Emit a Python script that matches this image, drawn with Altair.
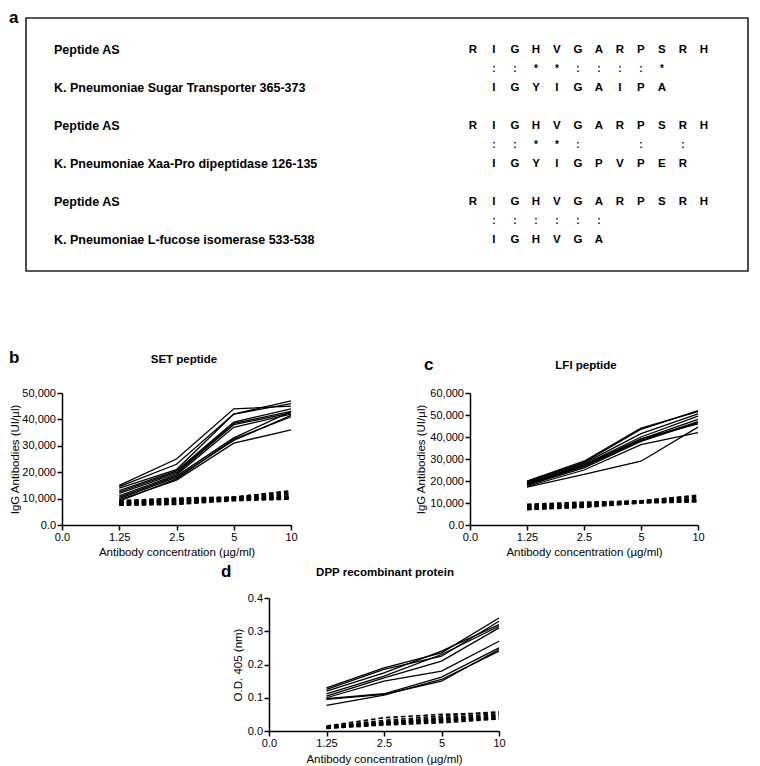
import altair as alt
import pandas as pd

FONT = "Liberation Sans"

# ---------------- panel a: sequence alignment ----------------
seq_labels = [
    "Peptide AS",
    "K. Pneumoniae Sugar Transporter 365-373",
    "Peptide AS",
    "K. Pneumoniae Xaa-Pro dipeptidase 126-135",
    "Peptide AS",
    "K. Pneumoniae L-fucose isomerase 533-538",
]
seq_strings = ["RIGHVGARPSRH", "-IGYIGAIPA", "RIGHVGARPSRH", "-IGYIGPVPER", "RIGHVGARPSRH", "-IGHVGA"]
match_strings = ["-::**::::*", "-::**:--:-:", "-::::::"]

# ---------------- panels b-d: dose responses ----------------
conc_axis = ["0.0", "1.25", "2.5", "5", "10"]
conc = ["1.25", "2.5", "5", "10"]

set_immune = [
    [15000, 25000, 44000, 45000],
    [14500, 23000, 42000, 47000],
    [14000, 21000, 42000, 46000],
    [13000, 20500, 39000, 44000],
    [12500, 20000, 38500, 43000],
    [12000, 19500, 38000, 42500],
    [11000, 19000, 37000, 42000],
    [10500, 18500, 33000, 43000],
    [10000, 18000, 32000, 41500],
    [9500, 17000, 31000, 36000],
    [9000, 17500, 32500, 41000],
]
set_control = [
    [7500, 7800, 9200, 9800],
    [7800, 8300, 9500, 10200],
    [8000, 8700, 9800, 10600],
    [8300, 9000, 10000, 11000],
    [8600, 9400, 10200, 11500],
    [8900, 9800, 10400, 12000],
    [9200, 10200, 10600, 12600],
    [8100, 9600, 10500, 13000],
    [7600, 8000, 9600, 10000],
    [8400, 9200, 10100, 10400],
]
lfi_immune = [
    [20000, 29000, 44000, 51500],
    [19800, 28500, 43500, 52000],
    [19500, 28000, 41500, 50500],
    [19000, 27500, 40000, 49500],
    [18500, 27000, 39000, 48000],
    [18200, 26500, 38500, 47000],
    [18000, 26000, 38000, 46500],
    [17500, 25000, 36500, 42000],
    [17200, 23000, 29000, 44500],
    [18800, 27200, 39200, 46000],
]
lfi_control = [
    [7000, 8000, 10000, 10500],
    [7400, 8400, 10200, 11000],
    [7800, 8800, 10400, 11500],
    [8200, 9200, 10600, 12000],
    [8600, 9600, 10800, 12600],
    [9000, 10000, 11000, 13200],
    [9400, 10400, 10900, 13600],
    [7200, 8600, 10300, 10800],
    [8000, 9000, 10500, 11200],
]
dpp_immune = [
    [0.130, 0.190, 0.235, 0.340],
    [0.125, 0.185, 0.225, 0.330],
    [0.120, 0.175, 0.240, 0.320],
    [0.112, 0.165, 0.230, 0.315],
    [0.105, 0.160, 0.210, 0.310],
    [0.100, 0.150, 0.180, 0.270],
    [0.097, 0.112, 0.162, 0.250],
    [0.095, 0.110, 0.150, 0.245],
    [0.077, 0.108, 0.155, 0.240],
]
dpp_control = [
    [0.015, 0.040, 0.050, 0.055],
    [0.013, 0.032, 0.045, 0.058],
    [0.012, 0.028, 0.040, 0.052],
    [0.011, 0.025, 0.036, 0.048],
    [0.010, 0.022, 0.032, 0.044],
    [0.009, 0.020, 0.028, 0.040],
    [0.008, 0.018, 0.025, 0.036],
    [0.010, 0.024, 0.034, 0.038],
]

# ================= build panel a =================
lab_df = pd.DataFrame({"label": seq_labels, "row": list(range(len(seq_labels)))})
let_rows = []
for r, s in enumerate(seq_strings):
    for c, ch in enumerate(s):
        if ch != "-":
            let_rows.append({"row": r, "col": c, "ch": ch})
let_df = pd.DataFrame(let_rows)
mk_rows = []
for r, s in enumerate(match_strings):
    for c, ch in enumerate(s):
        if ch != "-":
            mk_rows.append({"row": 2 * r + 0.5, "col": c, "ch": ch})
mk_df = pd.DataFrame(mk_rows)

xs_a = alt.Scale(domain=[-21.29, 13.1], nice=False, zero=False)
ys_a = alt.Scale(domain=[-0.84, 5.81], nice=False, zero=False, reverse=True)

labels_layer = alt.Chart(lab_df).mark_text(
    align="left", baseline="middle", font=FONT, fontSize=12.5, fontWeight="bold", color="black"
).encode(x=alt.value(28), y=alt.Y("row:Q", scale=ys_a, axis=None), text="label:N")

letters_layer = alt.Chart(let_df).mark_text(
    align="center", baseline="middle", font=FONT, fontSize=11.5, fontWeight="bold", color="black"
).encode(
    x=alt.X("col:Q", scale=xs_a, axis=None),
    y=alt.Y("row:Q", scale=ys_a, axis=None),
    text="ch:N",
)
marks_layer = alt.Chart(mk_df).mark_text(
    align="center", baseline="middle", font=FONT, fontSize=10, fontWeight="bold", color="black"
).encode(
    x=alt.X("col:Q", scale=xs_a, axis=None),
    y=alt.Y("row:Q", scale=ys_a, axis=None),
    text="ch:N",
)
a_letter = alt.Chart(pd.DataFrame({"t": ["a"]})).mark_text(
    align="left", baseline="top", font=FONT, fontSize=17, fontWeight="bold", color="black"
).encode(x=alt.value(-17), y=alt.value(-8), text="t:N")

panel_a = alt.layer(labels_layer, letters_layer, marks_layer, a_letter).properties(
    width=722, height=253, view=alt.ViewBackground(stroke="#222", strokeWidth=1.6)
)


# ================= dose panels =================
def to_long(series, group):
    rows = []
    for i, s in enumerate(series):
        for k, (c, v) in enumerate(zip(conc, s)):
            rows.append({"conc": c, "value": v, "k": k, "id": f"{group}{i}"})
    return pd.DataFrame(rows)


def dose_panel(immune, control, ymax, yvalues, label_expr, ytitle, title, letter,
               w, h, title_xy, letter_xy, ytitle_x, xtitle_y):
    x = alt.X(
        "conc:O",
        scale=alt.Scale(type="point", domain=conc_axis, padding=0),
        axis=alt.Axis(title="Antibody concentration (µg/ml)", labelAngle=0,
                      titleY=xtitle_y, titleBaseline="middle"),
    )
    y = alt.Y(
        "value:Q",
        scale=alt.Scale(domain=[0, ymax], nice=False),
        axis=alt.Axis(title=ytitle, values=yvalues, labelExpr=label_expr,
                      titleX=ytitle_x, titleBaseline="middle", titleAngle=-90),
    )
    imm = alt.Chart(to_long(immune, "i")).mark_line(color="black", strokeWidth=1.3).encode(
        x=x, y=y, detail="id:N", order="k:Q"
    )
    ctl = alt.Chart(to_long(control, "c")).mark_line(
        color="black", strokeWidth=1.6, strokeDash=[4.5, 3]
    ).encode(x=x, y=y, detail="id:N", order="k:Q")
    ttl = alt.Chart(pd.DataFrame({"t": [title]})).mark_text(
        align="center", baseline="alphabetic", font=FONT, fontSize=11.5, fontWeight="bold", color="black"
    ).encode(x=alt.value(title_xy[0]), y=alt.value(title_xy[1]), text="t:N")
    let = alt.Chart(pd.DataFrame({"t": [letter]})).mark_text(
        align="left", baseline="alphabetic", font=FONT, fontSize=17, fontWeight="bold", color="black"
    ).encode(x=alt.value(letter_xy[0]), y=alt.value(letter_xy[1]), text="t:N")
    return alt.layer(ctl, imm, ttl, let).properties(width=w, height=h)


comma_expr = "datum.value == 0 ? '0.0' : format(datum.value, ',')"
panel_b = dose_panel(set_immune, set_control, 50000, [0, 10000, 20000, 30000, 40000, 50000],
                     comma_expr, "IgG Antibodies (UI/µl)", "SET peptide", "b",
                     229, 132, (122, -30), (-53, -30), -47, 27)
panel_c = dose_panel(lfi_immune, lfi_control, 60000, [0, 10000, 20000, 30000, 40000, 50000, 60000],
                     comma_expr, "IgG Antibodies (UI/µl)", "LFI peptide", "c",
                     228, 132, (116, -24), (-46, -23), -49, 27)
panel_d = dose_panel(dpp_immune, dpp_control, 0.4, [0, 0.1, 0.2, 0.3, 0.4],
                     "format(datum.value, '.1f')", "O.D. 405 (nm)", "DPP recombinant protein", "d",
                     230, 133, (116, -22), (-48, -21), -31, 28)


def spacer(w, h):
    return alt.Chart(pd.DataFrame({"v": [0]})).mark_point(opacity=0, size=1).properties(width=w, height=h)


row_bc = alt.hconcat(
    spacer(36, 1), panel_b, spacer(179, 1), panel_c,
    spacing=0, bounds="flush",
).resolve_scale(x="independent", y="independent")
row_d = alt.hconcat(spacer(243, 1), panel_d, spacing=0, bounds="flush")

chart = alt.vconcat(
    panel_a, spacer(1, 122), row_bc, spacer(1, 205), row_d,
    spacing=0, bounds="flush",
).resolve_scale(x="independent", y="independent").properties(padding=0).configure(
    background="white"
).configure_view(strokeWidth=0).configure_axis(
    domainColor="black", domainWidth=1.5, tickColor="black", tickWidth=1.5, tickSize=5,
    labelFont=FONT, labelFontSize=11, labelColor="black", labelPadding=1.5,
    titleFont=FONT, titleFontSize=11.5, titleFontWeight="normal", titleColor="black",
    grid=False,
)

chart.save("out.html", embed_options={"renderer": "svg", "actions": False})
